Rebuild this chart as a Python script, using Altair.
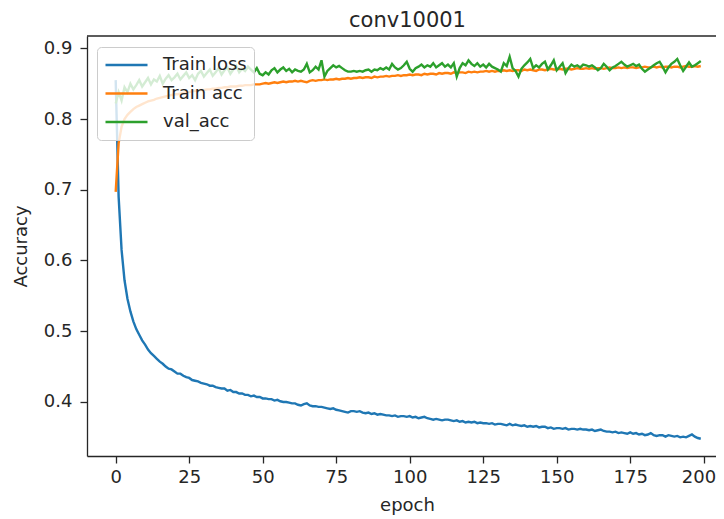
import altair as alt
import pandas as pd

epochs = list(range(200))

train_loss = [
    0.855, 0.690, 0.615, 0.572, 0.546, 0.528, 0.514, 0.503, 0.495, 0.487,
    0.481, 0.474, 0.469, 0.465, 0.461, 0.457, 0.454, 0.450, 0.447, 0.446,
    0.443, 0.440, 0.440, 0.437, 0.435, 0.434, 0.431, 0.430, 0.429, 0.427,
    0.426, 0.425, 0.423, 0.423, 0.421, 0.420, 0.419, 0.419, 0.416, 0.417,
    0.414, 0.414, 0.412, 0.412, 0.410, 0.410, 0.408, 0.409, 0.407, 0.407,
    0.405, 0.405, 0.404, 0.404, 0.402, 0.403, 0.401, 0.400, 0.400, 0.399,
    0.398, 0.398, 0.396, 0.395, 0.397, 0.398, 0.395, 0.394, 0.394, 0.393,
    0.393, 0.392, 0.391, 0.390, 0.391, 0.389, 0.388, 0.387, 0.386, 0.385,
    0.387, 0.387, 0.386, 0.387, 0.385, 0.384, 0.385, 0.383, 0.384, 0.382,
    0.383, 0.382, 0.381, 0.381, 0.380, 0.381, 0.379, 0.380, 0.380, 0.379,
    0.380, 0.378, 0.379, 0.377, 0.378, 0.379, 0.377, 0.376, 0.375, 0.376,
    0.375, 0.374, 0.375, 0.375, 0.374, 0.373, 0.374, 0.372, 0.373, 0.371,
    0.372, 0.371, 0.372, 0.370, 0.371, 0.370, 0.370, 0.369, 0.370, 0.368,
    0.369, 0.369, 0.368, 0.367, 0.369, 0.367, 0.368, 0.367, 0.366, 0.367,
    0.365, 0.366, 0.365, 0.366, 0.364, 0.365, 0.365, 0.363, 0.364, 0.362,
    0.363, 0.363, 0.362, 0.363, 0.361, 0.362, 0.362, 0.361, 0.362, 0.361,
    0.361, 0.360, 0.361, 0.359, 0.360, 0.361, 0.359, 0.358, 0.358, 0.357,
    0.358, 0.356, 0.357, 0.356, 0.355, 0.357, 0.355, 0.356, 0.354, 0.355,
    0.353, 0.354, 0.356, 0.353, 0.352, 0.353, 0.353, 0.351, 0.353, 0.352,
    0.351, 0.352, 0.350, 0.351, 0.350, 0.352, 0.354, 0.351, 0.349, 0.348,
]

train_acc = [
    0.697, 0.766, 0.789, 0.800, 0.806, 0.810, 0.814, 0.817, 0.819, 0.821,
    0.823, 0.825, 0.826, 0.827, 0.829, 0.830, 0.831, 0.832, 0.833, 0.834,
    0.835, 0.835, 0.836, 0.837, 0.838, 0.838, 0.839, 0.840, 0.840, 0.841,
    0.841, 0.842, 0.842, 0.843, 0.843, 0.844, 0.844, 0.845, 0.845, 0.846,
    0.846, 0.846, 0.847, 0.847, 0.848, 0.848, 0.848, 0.849, 0.849, 0.849,
    0.850, 0.851, 0.850, 0.851, 0.852, 0.851, 0.852, 0.853, 0.852, 0.853,
    0.853, 0.854, 0.853, 0.854, 0.853, 0.852, 0.854, 0.855, 0.854, 0.855,
    0.855, 0.856, 0.855, 0.856, 0.856, 0.857, 0.856, 0.857, 0.857, 0.858,
    0.857, 0.858, 0.858, 0.859, 0.858, 0.859, 0.859, 0.858, 0.860, 0.859,
    0.860, 0.860, 0.861, 0.860, 0.861, 0.861, 0.862, 0.861, 0.862, 0.862,
    0.863, 0.862, 0.863, 0.863, 0.862, 0.864, 0.863, 0.864, 0.864, 0.863,
    0.865, 0.864, 0.865, 0.865, 0.864, 0.866, 0.865, 0.866, 0.866, 0.865,
    0.867, 0.866, 0.867, 0.866, 0.867, 0.867, 0.868, 0.867, 0.868, 0.867,
    0.868, 0.868, 0.869, 0.868, 0.869, 0.868, 0.869, 0.869, 0.868, 0.870,
    0.869, 0.870, 0.869, 0.868, 0.870, 0.870, 0.869, 0.870, 0.871, 0.870,
    0.870, 0.871, 0.870, 0.871, 0.871, 0.870, 0.871, 0.872, 0.871, 0.871,
    0.872, 0.871, 0.872, 0.871, 0.872, 0.872, 0.871, 0.872, 0.873, 0.872,
    0.872, 0.873, 0.872, 0.873, 0.872, 0.873, 0.873, 0.872, 0.873, 0.873,
    0.874, 0.873, 0.873, 0.874, 0.873, 0.874, 0.873, 0.874, 0.874, 0.873,
    0.874, 0.874, 0.873, 0.874, 0.875, 0.874, 0.874, 0.875, 0.874, 0.875,
]

val_acc = [
    0.822, 0.838, 0.826, 0.845, 0.838, 0.850, 0.842, 0.848, 0.855, 0.846,
    0.852, 0.858, 0.849, 0.856, 0.853, 0.861, 0.850, 0.857, 0.862, 0.855,
    0.859, 0.864, 0.856, 0.861, 0.866, 0.858, 0.862, 0.855, 0.864, 0.868,
    0.860, 0.865, 0.870, 0.861, 0.866, 0.872, 0.863, 0.869, 0.873, 0.864,
    0.870, 0.875, 0.866, 0.871, 0.868, 0.874, 0.870, 0.866, 0.872, 0.864,
    0.862, 0.866, 0.863, 0.869, 0.872, 0.866, 0.870, 0.873, 0.868, 0.871,
    0.866, 0.870, 0.868, 0.867, 0.870, 0.878, 0.866, 0.869, 0.874, 0.870,
    0.883, 0.860, 0.868, 0.872, 0.876, 0.873, 0.875, 0.872, 0.869, 0.867,
    0.867, 0.868, 0.867, 0.868, 0.867, 0.869, 0.870, 0.867, 0.870, 0.869,
    0.872, 0.870, 0.873, 0.870, 0.878, 0.873, 0.870, 0.872, 0.876, 0.881,
    0.871, 0.867, 0.872, 0.874, 0.877, 0.873, 0.876, 0.874, 0.879, 0.873,
    0.876, 0.879, 0.874, 0.877, 0.873, 0.879, 0.860, 0.872, 0.879, 0.876,
    0.883, 0.878, 0.875, 0.879, 0.874, 0.877, 0.873, 0.878, 0.874, 0.872,
    0.870, 0.867, 0.879, 0.875, 0.888, 0.872, 0.868, 0.860, 0.871, 0.876,
    0.880, 0.885, 0.872, 0.876, 0.873, 0.878, 0.881, 0.870, 0.876, 0.883,
    0.869, 0.874, 0.879, 0.865, 0.872, 0.877, 0.874, 0.876, 0.873, 0.877,
    0.876, 0.874, 0.876, 0.873, 0.869, 0.872, 0.878, 0.874, 0.869, 0.873,
    0.875, 0.878, 0.881, 0.877, 0.874, 0.876, 0.878, 0.875, 0.877, 0.871,
    0.867, 0.870, 0.873, 0.876, 0.879, 0.881, 0.874, 0.866, 0.873, 0.878,
    0.881, 0.885, 0.876, 0.868, 0.874, 0.880, 0.874, 0.876, 0.879, 0.882,
]

series_names = ["Train loss", "Train acc", "val_acc"]
series_colors = ["#1f77b4", "#ff7f0e", "#2ca02c"]
x_ticks = [0, 25, 50, 75, 100, 125, 150, 175, 200]
y_ticks = [0.4, 0.5, 0.6, 0.7, 0.8, 0.9]

W, H = 629, 420
FONT = "DejaVu Sans"
INK = "#262626"

def frame(name, values):
    return pd.DataFrame({"epoch": epochs, "value": values, "series": name})

color = alt.Color(
    "series:N",
    scale=alt.Scale(domain=series_names, range=series_colors),
    legend=alt.Legend(
        title=None,
        orient="none",
        legendX=10,
        legendY=11,
        symbolType="stroke",
        symbolSize=1764,
        symbolStrokeWidth=2.6,
        clipHeight=22,
        labelFontSize=18,
        labelFont=FONT,
        labelColor=INK,
        labelOffset=14,
        rowPadding=6.5,
        padding=7,
        fillColor="rgba(255,255,255,0.8)",
        strokeColor="#cccccc",
        cornerRadius=4,
    ),
)

x_enc = alt.X(
    "epoch:Q",
    scale=alt.Scale(domain=[-9.76, 204.18], nice=False, zero=False),
    axis=alt.Axis(
        values=x_ticks, title="epoch", grid=False, format="d",
        titleX=320, titleY=54, titleBaseline="alphabetic", titleAlign="center",
        labelPadding=5, labelFlush=15, labelFlushOffset=12,
    ),
)
y_enc = alt.Y(
    "value:Q",
    scale=alt.Scale(domain=[0.3236, 0.9174], nice=False, zero=False),
    axis=alt.Axis(
        values=y_ticks, title="Accuracy", grid=False, format=".1f",
        titleX=-66, titleBaseline="middle", titleAlign="center",
        labelPadding=8,
    ),
)

layers = []
for name, vals in zip(series_names, [train_loss, train_acc, val_acc]):
    layers.append(
        alt.Chart(frame(name, vals))
        .mark_line(strokeWidth=2.4, clip=True)
        .encode(x=x_enc, y=y_enc, color=color)
    )

top_spine = (
    alt.Chart(pd.DataFrame({"k": [0]}))
    .mark_rule(color=INK, strokeWidth=1.3)
    .encode(x=alt.value(0), x2=alt.value(W), y=alt.value(0))
)

chart = (
    alt.layer(*layers, top_spine)
    .properties(
        width=W,
        height=H,
        title=alt.Title("conv10001", fontSize=21, font=FONT, fontWeight="normal",
                        color=INK, offset=4, anchor="middle", dx=6),
        padding={"left": 79, "top": 28, "right": 0, "bottom": 60},
        autosize=alt.AutoSizeParams(type="none"),
    )
    .configure_view(stroke=None)
    .configure_axis(
        labelFont=FONT, titleFont=FONT, labelFontSize=18, titleFontSize=18,
        labelColor=INK, titleColor=INK, titleFontWeight="normal",
        domainColor=INK, domainWidth=1.3, tickColor=INK,
        tickWidth=1.3, tickSize=7,
    )
)

chart.save("out.html", embed_options={"renderer": "svg", "actions": False})
